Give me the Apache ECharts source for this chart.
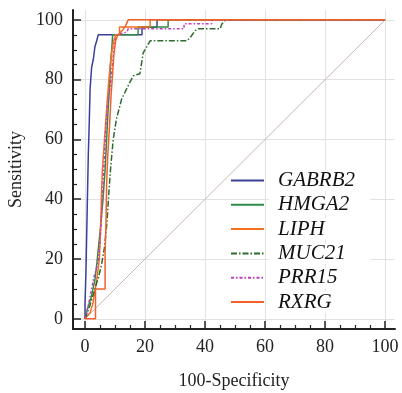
<!DOCTYPE html>
<html>
<head>
<meta charset="utf-8">
<script src="https://cdn.jsdelivr.net/npm/echarts@6/dist/echarts.min.js"></script>
<style>
html,body{margin:0;padding:0;background:#fff;}
#chart{width:402px;height:393px;}
</style>
</head>
<body>
<div id="chart"></div>
<script>
// ---- data (x = 100-Specificity, y = Sensitivity) ----
var seriesNames = ['GABRB2', 'HMGA2', 'LIPH', 'MUC21', 'PRR15', 'RXRG'];
var majorTicks = [0, 20, 40, 60, 80, 100];
var minorTicks = [5, 10, 15, 25, 30, 35, 45, 50, 55, 65, 70, 75, 85, 90, 95];
var referenceLine = [[0, 0], [100, 100]];

var GABRB2 = [[0,0],[0,5],[0.3,15],[0.5,25],[0.8,40],[1.1,55],[1.4,65],[1.7,77],[2.2,84],[2.8,87],[3.3,91],[3.9,93],[4.4,95],[19,95],[19,97.5],[24,97.5],[24,100],[100,100]];
var HMGA2 = [[0,0],[1,4],[2,7],[3.3,13],[4,19],[4.5,24],[5.3,32],[6,40],[6.7,50],[7.2,60],[7.7,70],[8.2,78],[8.5,85],[8.9,90],[9.2,95],[17.7,95],[17.7,97.6],[27.7,97.6],[27.7,100],[100,100]];
var LIPH = [[0,0],[1.7,2],[2.7,5.5],[3.9,13],[4.8,20],[5.2,30],[5.5,42],[5.8,50],[6.5,60],[7.2,70],[7.8,78],[8.4,85],[9,90],[9.6,93],[10.2,95],[11.5,95],[11.5,97.6],[21.7,97.6],[21.7,100],[100,100]];
var MUC21 = [[0,0],[1.5,4],[3,9],[4.5,14],[5.5,18],[6.5,24],[7.3,32],[7.8,40],[8.5,50],[9.4,60],[10.5,67],[11.3,70],[12.2,73.5],[14.4,78],[16.1,81.3],[18.3,82],[19.4,89],[21.7,93],[33.9,93],[35,94],[36.7,96.4],[37.8,97],[45,97],[45.6,98.6],[46.2,99.3],[47,100],[100,100]];
var PRR15 = [[0,0],[1,4],[2,9],[3,14],[4.4,19],[5,26],[5.6,36],[6,45],[6.5,55],[7,65],[7.6,72],[8.4,78],[9,84],[9.5,89],[10,93],[10.8,95],[14,96],[14.4,97],[33,97],[33,98.7],[42.2,98.7],[42.2,100],[100,100]];
var RXRG = [[0,0],[3.5,0],[3.5,10],[6.7,10],[6.7,22],[7,32],[7.2,45],[7.6,55],[8.2,65],[8.7,75],[9.2,82],[9.6,88],[10.2,93],[11,95],[12.5,96.5],[13.5,98],[14.4,100],[100,100]];

var seriesData = [GABRB2, HMGA2, LIPH, MUC21, PRR15, RXRG];
var colors = ['#3b3f98', '#2e8b43', '#f36f21', '#2f6b2f', '#c13fbf', '#f0622a'];
var dashes = ['solid', 'solid', 'solid', [6, 2, 1.5, 2], [3, 2, 1.5, 2], 'solid'];

var serif = '"Liberation Serif","DejaVu Serif",serif';
var axisMin = { x: -4, y: -3.4 };
var axisMax = 103.3;

function majorAxis(dir, name, nameGap) {
  return {
    type: 'value',
    min: axisMin[dir], max: axisMax,
    position: dir === 'x' ? 'bottom' : 'left',
    name: name, nameLocation: 'middle', nameGap: nameGap,
    nameTextStyle: { fontFamily: serif, fontSize: 18, color: '#222' },
    axisLine: { show: true, onZero: false, lineStyle: { color: '#222', width: 2 } },
    axisTick: { show: true, inside: true, length: 8, customValues: majorTicks, lineStyle: { color: '#222', width: 1.5 } },
    axisLabel: { customValues: majorTicks, fontFamily: serif, fontSize: 18, color: '#222', margin: dir === 'x' ? 9 : 10 },
    splitLine: { show: true, lineStyle: { color: '#e2e2e2', width: 1 } }
  };
}
function minorAxis(dir) {
  return {
    type: 'value',
    min: axisMin[dir], max: axisMax,
    position: dir === 'x' ? 'bottom' : 'left',
    axisLine: { show: false, onZero: false },
    axisTick: { show: true, inside: true, length: 4, customValues: minorTicks, lineStyle: { color: '#222', width: 1.2 } },
    axisLabel: { show: false },
    splitLine: { show: false }
  };
}

var series = [{
  type: 'line', data: referenceLine, symbol: 'none', silent: true,
  lineStyle: { color: '#c9b9b0', width: 1 }, z: 1
}];
seriesNames.forEach(function (n, i) {
  series.push({
    name: n, type: 'line', data: seriesData[i], symbol: 'none', showSymbol: false,
    color: colors[i],
    lineStyle: { color: colors[i], width: 1.5, type: dashes[i] },
    z: 3
  });
});

var chart = echarts.init(document.getElementById('chart'), null, { renderer: 'canvas' });
chart.setOption({
  animation: false,
  backgroundColor: '#fff',
  grid: { left: 73, top: 10, right: 7, bottom: 64, containLabel: false, outerBoundsMode: 'none' },
  xAxis: [majorAxis('x', '100-Specificity', 43), minorAxis('x')],
  yAxis: [majorAxis('y', 'Sensitivity', 36), minorAxis('y')],
  legend: {
    data: seriesNames,
    orient: 'vertical',
    left: 230, top: 170,
    itemWidth: 33, itemHeight: 12, itemGap: 3.3,
    padding: 0,
    itemStyle: { opacity: 0 },
    textStyle: {
      fontFamily: serif, fontStyle: 'italic', fontSize: 21, lineHeight: 21, color: '#111',
      backgroundColor: '#fff', width: 92, padding: [0, 0, 0, 9]
    }
  },
  series: series
});
</script>
</body>
</html>
